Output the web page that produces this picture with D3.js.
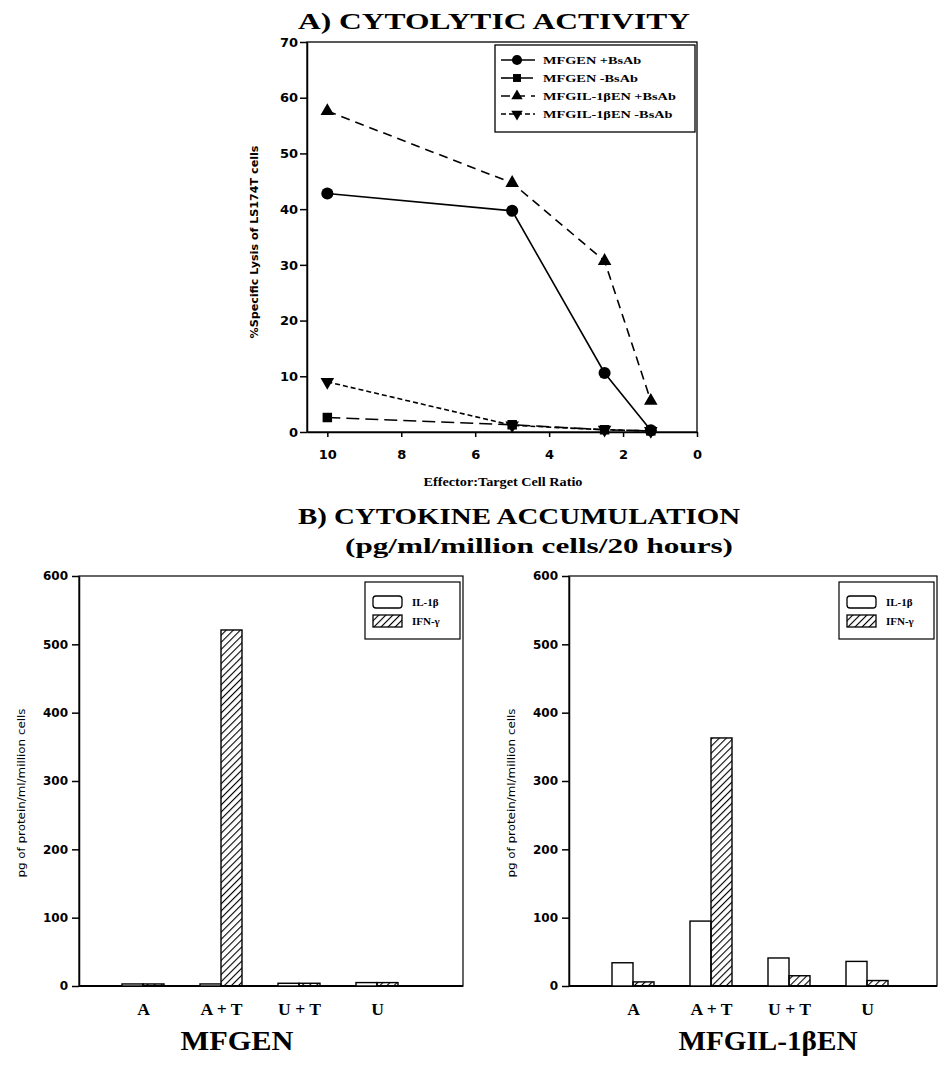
<!DOCTYPE html>
<html lang="en">
<head>
<meta charset="UTF-8">
<title>Cytolytic activity and cytokine accumulation</title>
<script src="https://d3js.org/d3.v7.min.js"></script>
<style>
  body { margin: 0; background: #fff; }
  text { fill: #000; }
</style>
</head>
<body>
<script>
// ---- data: panel A ----
var ratios = [10, 5, 2.5, 1.25];
var ratioTicks = [10, 8, 6, 4, 2, 0];
var lysisTicks = [0, 10, 20, 30, 40, 50, 60, 70];
var lysisNames = ["MFGEN +BsAb", "MFGEN -BsAb", "MFGIL-1βEN +BsAb", "MFGIL-1βEN -BsAb"];
var mfgenPlus = [42.8, 39.7, 10.6, 0.3];
var mfgenMinus = [2.6, 1.3, 0.4, 0.2];
var mfgilPlus = [57.6, 44.7, 30.7, 5.6];
var mfgilMinus = [9.0, 1.2, 0.4, 0.2];

// ---- data: panel B ----
var conditions = ["A", "A + T", "U + T", "U"];
var cytokines = ["IL-1β", "IFN-γ"];
var cytokineTicks = [0, 100, 200, 300, 400, 500, 600];
var mfgenIL1b = [3, 3, 4, 5];
var mfgenIFNg = [3, 521, 4, 5];
var mfgilIL1b = [34, 95, 41, 36];
var mfgilIFNg = [6, 363, 15, 8];

var svg = d3.select("body").append("svg")
    .attr("width", 940)
    .attr("height", 1068);

var serif = "'Liberation Serif', 'Times New Roman', serif";
var sans = "'DejaVu Sans', 'Liberation Sans', sans-serif";

function fit(sel, w) {
    sel.attr("textLength", w).attr("lengthAdjust", "spacingAndGlyphs");
}
function stretch(sel, k) {
    sel.each(function () {
        var len = this.getComputedTextLength();
        d3.select(this).attr("textLength", len * k).attr("lengthAdjust", "spacingAndGlyphs");
    });
}

// hatch pattern for IFN-gamma bars
var defs = svg.append("defs");
defs.append("pattern")
    .attr("id", "hatch")
    .attr("patternUnits", "userSpaceOnUse")
    .attr("width", 5).attr("height", 5)
    .attr("patternTransform", "rotate(45)")
    .append("line")
    .attr("x1", 0).attr("y1", 0).attr("x2", 0).attr("y2", 5)
    .attr("stroke", "#000").attr("stroke-width", 2.2);

// ================= A) CYTOLYTIC ACTIVITY =================
svg.append("text")
    .attr("x", 494).attr("y", 29)
    .attr("text-anchor", "middle")
    .style("font", "bold 24px " + serif)
    .text("A) CYTOLYTIC ACTIVITY")
    .call(fit, 392);

var lx = d3.scaleLinear().domain([10.55, 0]).range([307, 697]);
var ly = d3.scaleLinear().domain([0, 70]).range([432, 42]);

var panelA = svg.append("g");

panelA.append("rect")
    .attr("x", lx.range()[0]).attr("y", ly.range()[1])
    .attr("width", lx.range()[1] - lx.range()[0])
    .attr("height", ly.range()[0] - ly.range()[1])
    .attr("fill", "none").attr("stroke", "#000").attr("stroke-width", 1.3);

var ay = panelA.append("g")
    .attr("transform", "translate(" + lx.range()[0] + ",0)")
    .call(d3.axisLeft(ly).tickValues(lysisTicks).tickSize(7).tickPadding(2).tickSizeOuter(0));
var ax = panelA.append("g")
    .attr("transform", "translate(0," + ly.range()[0] + ")")
    .call(d3.axisBottom(lx).tickValues(ratioTicks).tickSize(5).tickPadding(13).tickSizeOuter(0));
[ay, ax].forEach(function (g) {
    g.selectAll("path, line").attr("stroke", "#000").attr("stroke-width", 1.5);
    g.selectAll("text").style("font", "bold 13px " + sans);
});

panelA.append("text")
    .attr("transform", "translate(258,242) rotate(-90)")
    .attr("text-anchor", "middle")
    .style("font", "bold 10px " + sans)
    .text("%Specific Lysis of LS174T cells")
    .call(fit, 193);

panelA.append("text")
    .attr("x", 503).attr("y", 486)
    .attr("text-anchor", "middle")
    .style("font", "bold 12px " + serif)
    .text("Effector:Target Cell Ratio")
    .call(fit, 159);

var series = [
    { name: lysisNames[0], values: mfgenPlus, symbol: d3.symbolCircle, size: 115, rot: 0, dash: null },
    { name: lysisNames[1], values: mfgenMinus, symbol: d3.symbolSquare, size: 90, rot: 0, dash: "13,6" },
    { name: lysisNames[2], values: mfgilPlus, symbol: d3.symbolTriangle, size: 80, rot: 0, dash: "9,6" },
    { name: lysisNames[3], values: mfgilMinus, symbol: d3.symbolTriangle, size: 80, rot: 180, dash: "5,3" }
];

var line = d3.line()
    .x(function (d) { return lx(d[0]); })
    .y(function (d) { return ly(d[1]); });

series.forEach(function (s) {
    var pts = ratios.map(function (r, i) { return [r, s.values[i]]; });
    panelA.append("path")
        .datum(pts)
        .attr("d", line)
        .attr("fill", "none")
        .attr("stroke", "#000")
        .attr("stroke-width", 1.6)
        .attr("stroke-dasharray", s.dash);
    panelA.selectAll(null)
        .data(pts)
        .enter()
        .append("path")
        .attr("d", d3.symbol().type(s.symbol).size(s.size))
        .attr("transform", function (d) {
            return "translate(" + lx(d[0]) + "," + ly(d[1]) + ") rotate(" + s.rot + ")";
        })
        .attr("fill", "#000");
});

// legend A
var legA = panelA.append("g").attr("transform", "translate(495,45)");
legA.append("rect")
    .attr("width", 200).attr("height", 87)
    .attr("fill", "#fff").attr("stroke", "#000").attr("stroke-width", 1.3);
series.forEach(function (s, i) {
    var row = legA.append("g").attr("transform", "translate(0," + (15 + i * 18) + ")");
    row.append("line")
        .attr("x1", 6).attr("x2", 40)
        .attr("stroke", "#000").attr("stroke-width", 1.6)
        .attr("stroke-dasharray", s.dash);
    row.append("path")
        .attr("d", d3.symbol().type(s.symbol).size(s.size * 0.7))
        .attr("transform", "translate(22,0) rotate(" + s.rot + ")")
        .attr("fill", "#000");
    row.append("text")
        .attr("x", 48).attr("y", 4)
        .style("font", "bold 11px " + serif)
        .text(s.name)
        .call(stretch, 1.3);
});

// ================= B) CYTOKINE ACCUMULATION =================
svg.append("text")
    .attr("x", 519).attr("y", 524)
    .attr("text-anchor", "middle")
    .style("font", "bold 24px " + serif)
    .text("B) CYTOKINE ACCUMULATION")
    .call(fit, 442);
svg.append("text")
    .attr("x", 539).attr("y", 553)
    .attr("text-anchor", "middle")
    .style("font", "bold 21px " + serif)
    .text("(pg/ml/million cells/20 hours)")
    .call(fit, 388);

function barChart(left, right, il, ifn, title, titleX, titleW) {
    var by = d3.scaleLinear().domain([0, 600]).range([986, 576]);
    var bx = d3.scalePoint().domain(conditions).range([left + 64, left + 298]);
    var bw = 21;
    var g = svg.append("g");

    g.append("rect")
        .attr("x", left).attr("y", by.range()[1])
        .attr("width", right - left).attr("height", by.range()[0] - by.range()[1])
        .attr("fill", "none").attr("stroke", "#000").attr("stroke-width", 1.2);

    var yA = g.append("g")
        .attr("transform", "translate(" + left + ",0)")
        .call(d3.axisLeft(by).tickValues(cytokineTicks).tickSize(7).tickPadding(4).tickSizeOuter(0));
    yA.selectAll("path, line").attr("stroke", "#000").attr("stroke-width", 1.5);
    yA.selectAll("text").style("font", "bold 12px " + sans);

    var xA = g.append("g")
        .attr("transform", "translate(0," + by.range()[0] + ")")
        .call(d3.axisBottom(bx).tickSize(0).tickPadding(18));
    xA.select(".domain").remove();
    xA.selectAll("text").style("font", "bold 16px " + serif).call(stretch, 1.1);

    g.append("line")
        .attr("x1", left).attr("x2", right)
        .attr("y1", by(0)).attr("y2", by(0))
        .attr("stroke", "#000").attr("stroke-width", 1.8);

    g.append("text")
        .attr("transform", "translate(" + (left - 54) + ",793) rotate(-90)")
        .attr("text-anchor", "middle")
        .style("font", "10px " + sans)
        .text("pg of protein/ml/million cells")
        .call(fit, 169);

    g.selectAll(".il")
        .data(il)
        .enter()
        .append("rect")
        .attr("x", function (d, i) { return bx(conditions[i]) - bw; })
        .attr("y", function (d) { return by(d); })
        .attr("width", bw)
        .attr("height", function (d) { return by(0) - by(d); })
        .attr("fill", "#fff").attr("stroke", "#000").attr("stroke-width", 1.4);
    g.selectAll(".ifn")
        .data(ifn)
        .enter()
        .append("rect")
        .attr("x", function (d, i) { return bx(conditions[i]); })
        .attr("y", function (d) { return by(d); })
        .attr("width", bw)
        .attr("height", function (d) { return by(0) - by(d); })
        .attr("fill", "url(#hatch)").attr("stroke", "#000").attr("stroke-width", 1.4);

    // legend
    var leg = g.append("g").attr("transform", "translate(" + (right - 98) + ",582)");
    leg.append("rect")
        .attr("width", 95).attr("height", 57)
        .attr("fill", "#fff").attr("stroke", "#000").attr("stroke-width", 1.2);
    cytokines.forEach(function (c, i) {
        var row = leg.append("g").attr("transform", "translate(0," + (20 + i * 19) + ")");
        row.append("rect")
            .attr("x", 8).attr("y", -6)
            .attr("width", 29).attr("height", 12)
            .attr("rx", i === 0 ? 3 : 0)
            .attr("fill", i === 0 ? "#fff" : "url(#hatch)")
            .attr("stroke", "#000").attr("stroke-width", 1.3);
        row.append("text")
            .attr("x", 47).attr("y", 4)
            .style("font", "bold 11px " + serif)
            .text(c);
    });

    svg.append("text")
        .attr("x", titleX).attr("y", 1050)
        .attr("text-anchor", "middle")
        .style("font", "bold 27px " + serif)
        .text(title)
        .call(fit, titleW);
}

barChart(79, 463, mfgenIL1b, mfgenIFNg, "MFGEN", 237, 113);
barChart(569, 937, mfgilIL1b, mfgilIFNg, "MFGIL-1βEN", 768, 179);
</script>
</body>
</html>
